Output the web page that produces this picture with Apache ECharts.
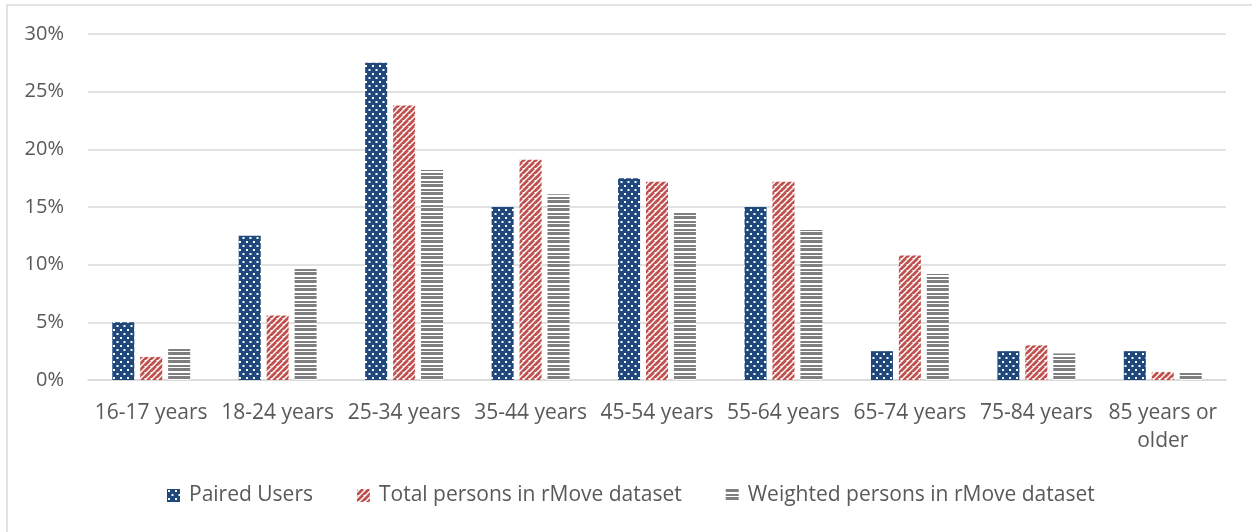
<!DOCTYPE html>
<html>
<head>
<meta charset="utf-8">
<script src="https://cdn.jsdelivr.net/npm/echarts@6/dist/echarts.min.js"></script>
<style>
  html, body { margin: 0; padding: 0; background: #fff; }
  #chart { width: 1252px; height: 532px; }
</style>
</head>
<body>
<div id="chart"></div>
<script>
// categories and values (percent)
const ageGroups = ['16-17 years', '18-24 years', '25-34 years', '35-44 years', '45-54 years',
    '55-64 years', '65-74 years', '75-84 years', '85 years or\nolder'];
const pairedUsers = [5.0, 12.5, 27.5, 15.0, 17.5, 15.0, 2.5, 2.5, 2.5];
const totalPersons = [2.0, 5.6, 23.8, 19.1, 17.2, 17.2, 10.8, 3.0, 0.7];
const weightedPersons = [2.7, 9.8, 18.2, 16.1, 14.5, 13.0, 9.2, 2.3, 0.7];
const yTicks = [0, 5, 10, 15, 20, 25, 30];

const FONT = 'Open Sans';
const TEXT = '#595959';

// fill patterns
function makeTile(w, h, draw) {
    const c = document.createElement('canvas');
    c.width = w;
    c.height = h;
    draw(c.getContext('2d'));
    return c;
}
const dotTile = makeTile(7, 8, ctx => {
    ctx.fillStyle = '#1f497d';
    ctx.fillRect(0, 0, 7, 8);
    ctx.fillStyle = '#ffffff';
    ctx.fillRect(1, 1, 2, 2);
    ctx.fillRect(4.5, 5, 2, 2);
});
const stripeTile = makeTile(6, 6, ctx => {
    ctx.fillStyle = '#ffffff';
    ctx.fillRect(0, 0, 6, 6);
    ctx.strokeStyle = '#c0504d';
    ctx.lineWidth = 2.8;
    for (let k = -6; k <= 12; k += 6) {
        ctx.beginPath();
        ctx.moveTo(k - 6, 12);
        ctx.lineTo(k + 6, 0);
        ctx.stroke();
    }
});
const lineTile = makeTile(8, 8, ctx => {
    ctx.fillStyle = '#ffffff';
    ctx.fillRect(0, 0, 8, 8);
    ctx.fillStyle = '#7f7f7f';
    ctx.fillRect(0, 0, 8, 3);
    ctx.fillRect(0, 5, 8, 2);
});
const pat = tile => ({ image: tile, repeat: 'repeat' });

const chart = echarts.init(document.getElementById('chart'));

const makeSeries = (name, data, tile) => ({
    name: name,
    type: 'bar',
    data: data,
    barWidth: 22,
    barGap: '27%',
    itemStyle: { color: pat(tile) },
    animation: false
});

chart.setOption({
    backgroundColor: '#ffffff',
    textStyle: { fontFamily: FONT },
    grid: {
        left: 88,
        right: 26,
        top: 34,
        bottom: 152
    },
    graphic: [{
        type: 'rect',
        shape: { x: 7, y: 5, width: 1300, height: 600 },
        style: { fill: null, stroke: '#d9d9d9', lineWidth: 1.5 },
        silent: true
    }],
    legend: {
        left: 162,
        top: 480,
        itemWidth: 13,
        itemHeight: 13,
        itemGap: 44,
        icon: 'rect',
        textStyle: { fontFamily: FONT, fontSize: 21, color: TEXT, padding: [0, 0, 0, 4] },
        data: ['Paired Users', 'Total persons in rMove dataset', 'Weighted persons in rMove dataset']
    },
    xAxis: {
        type: 'category',
        data: ageGroups,
        axisLine: { lineStyle: { color: '#d9d9d9', width: 1.5 } },
        axisTick: { show: false },
        axisLabel: {
            interval: 0,
            margin: 19,
            fontFamily: FONT,
            fontSize: 21,
            lineHeight: 28,
            color: TEXT
        }
    },
    yAxis: {
        type: 'value',
        min: yTicks[0],
        max: yTicks[yTicks.length - 1],
        interval: 5,
        axisLine: { show: false },
        axisTick: { show: false },
        splitLine: { lineStyle: { color: '#d9d9d9', width: 1.5 } },
        axisLabel: {
            formatter: '{value}%',
            margin: 24,
            fontFamily: FONT,
            fontSize: 20,
            color: TEXT
        }
    },
    series: [
        makeSeries('Paired Users', pairedUsers, dotTile),
        makeSeries('Total persons in rMove dataset', totalPersons, stripeTile),
        makeSeries('Weighted persons in rMove dataset', weightedPersons, lineTile)
    ]
});

window.addEventListener('resize', function() {
    chart.resize();
});
</script>
</body>
</html>
